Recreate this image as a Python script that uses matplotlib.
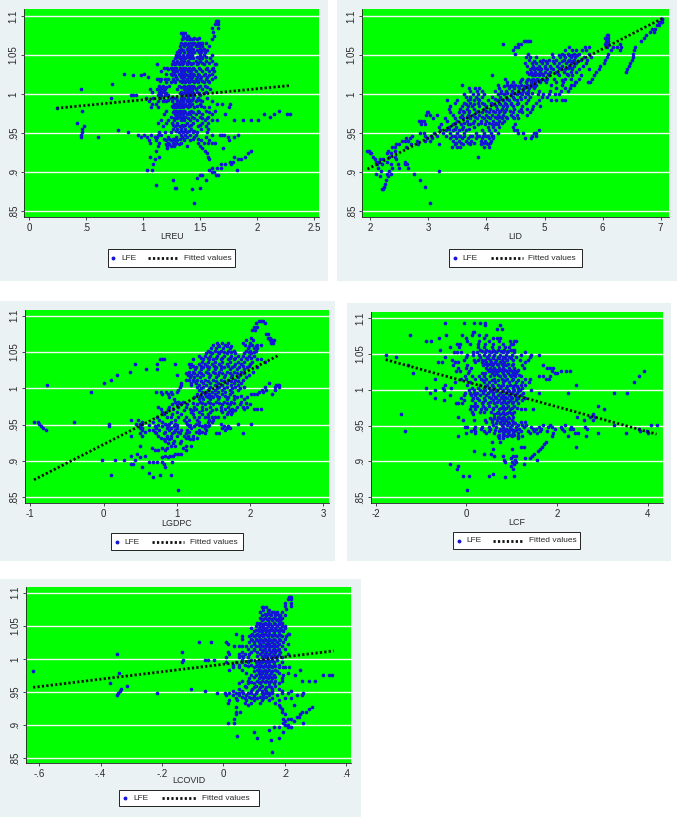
import matplotlib
matplotlib.use("Agg")
import matplotlib.pyplot as plt
from matplotlib.patches import Rectangle

plt.rcParams['font.family'] = ['Liberation Sans', 'DejaVu Sans']

# ---- data: each row is (LFE value, [regressor values read at that LFE]) ----
LREU_ROWS = [
 (1.094,[1.64,1.65,1.66]),(1.09,[1.63,1.66]),(1.085,[1.6,1.66]),(1.08,[1.61]),(1.075,[1.62]),(1.07,[1.6]),
 (1.078,[1.33,1.34,1.35,1.37]),(1.074,[1.35,1.38,1.39]),(1.07,[1.34,1.38,1.41,1.42,1.44,1.47]),
 (1.066,[1.33,1.37,1.4,1.43,1.45,1.48,1.5,1.52,1.55]),(1.062,[1.32,1.36,1.39,1.42,1.46,1.49,1.52,1.58]),
 (1.058,[1.33,1.38,1.41,1.44,1.5,1.53]),(1.054,[1.3,1.32,1.36,1.39,1.42,1.45,1.49,1.51,1.54]),
 (1.05,[1.29,1.31,1.35,1.38,1.4,1.43,1.5,1.53,1.6]),(1.046,[1.28,1.32,1.34,1.37,1.41,1.44,1.49,1.52,1.59]),
 (1.042,[1.26,1.3,1.33,1.36,1.39,1.46,1.5,1.55,1.6]),(1.038,[1.12,1.25,1.28,1.31,1.34,1.38,1.42,1.47,1.53,1.63,1.64]),
 (1.034,[1.18,1.21,1.24,1.27,1.29,1.32,1.35,1.37,1.4,1.44,1.49,1.56,1.61]),
 (1.03,[1.16,1.26,1.28,1.3,1.33,1.36,1.39,1.42,1.46,1.52,1.58,1.62]),
 (1.026,[1.2,1.24,1.27,1.31,1.34,1.37,1.41,1.44,1.48,1.54,1.6]),
 (1.022,[1.04,1.29,1.33,1.36,1.4,1.43,1.47,1.51,1.56,1.63]),
 (1.019,[1.12,1.14,1.16,1.19,1.22,1.26,1.3,1.35,1.38,1.42,1.46,1.5,1.55,1.6]),
 (1.015,[1.2,1.24,1.28,1.34,1.37,1.4,1.45,1.48,1.53,1.58]),
 (1.011,[1.14,1.17,1.23,1.31,1.36,1.39,1.42,1.44,1.5,1.54]),
 (1.007,[1.06,1.12,1.15,1.17,1.19,1.3,1.36,1.38,1.4,1.43,1.46,1.52,1.59]),
 (1.003,[1.08,1.14,1.16,1.18,1.33,1.37,1.39,1.41,1.43,1.47,1.55]),
 (.999,[.89,.91,.94,1.13,1.16,1.19,1.22,1.34,1.38,1.4,1.42,1.45,1.5]),
 (.995,[.72,1.02,1.09,1.15,1.24,1.27,1.29,1.33,1.36,1.39,1.44,1.48,1.56]),
 (.991,[1.05,1.13,1.17,1.2,1.25,1.3,1.32,1.35,1.38,1.41,1.46,1.52,1.6]),
 (.987,[1.08,1.11,1.27,1.29,1.31,1.34,1.37,1.4,1.43,1.5,1.65,1.69,1.76]),
 (.983,[1.07,1.13,1.26,1.28,1.3,1.32,1.35,1.39,1.45,1.53,1.58,1.75]),
 (.979,[.46,1.2,1.27,1.29,1.31,1.33,1.36,1.42,1.48,1.55,1.63,2.19]),
 (.975,[1.18,1.28,1.3,1.32,1.35,1.38,1.41,1.46,1.52,1.6,1.72,2.06,2.29,2.26,2.15]),
 (.971,[1.24,1.29,1.31,1.34,1.37,1.43,1.5,1.57,2.11]),
 (.967,[1.16,1.22,1.27,1.33,1.36,1.41,1.47,1.54,1.6,1.65,1.8,1.88,1.95,2.01]),
 (.963,[.42,1.13,1.2,1.25,1.3,1.38,1.44,1.52,1.57]),
 (.959,[.48,1.17,1.28,1.32,1.35,1.4,1.48,1.55]),
 (.955,[.46,1.26,1.3,1.33,1.37,1.42,1.51,1.57]),
 (.951,[.46,.87,1.14,1.19,1.24,1.31,1.35,1.38,1.44,1.47,1.56]),
 (.948,[.455,.95,1.01,1.07,1.13,1.16,1.33,1.37,1.41,1.46,1.6,1.67,1.69,1.71,1.83]),
 (.945,[.45,.6,.98,1.03,1.1,1.12,1.22,1.29,1.34,1.38,1.45,1.55,1.74,1.8]),
 (.941,[1.05,1.11,1.2,1.24,1.27,1.3,1.36,1.41,1.51,1.58,1.75]),
 (.938,[1.06,1.14,1.22,1.26,1.29,1.33,1.48,1.53,1.57,1.6,1.63]),
 (.934,[1.13,1.21,1.24,1.27,1.38,1.5]),(.931,[1.21,1.52,1.7]),(.927,[1.11,1.54,1.95]),(.924,[1.56,1.92]),
 (.92,[1.06,1.14,1.57,1.8,1.89]),(.917,[1.1,1.58,1.83,1.86]),(.913,[1.76,1.79]),(.91,[1.09,1.68,1.72,1.77]),
 (.906,[1.6,1.65,1.68]),(.903,[1.08,1.03,1.58,1.82]),(.9,[1.6,1.62]),(.897,[1.5,1.52,1.64,1.66]),
 (.893,[1.47]),(.89,[1.26,1.55]),(.884,[1.11]),(.88,[1.28,1.29,1.5]),(.878,[1.43]),(.86,[1.45]),
 (.982,[.24]),(1.006,[.45]),(1.013,[.73]),(1.026,[.83,1.01]),(1.024,[.91,.98]),(.954,[.78]),
]
LREU_FILL = [
 (1.072,[1.36,1.4,1.45,1.49]),(1.064,[1.35,1.38,1.44,1.47,1.51]),(1.056,[1.31,1.35,1.4,1.47,1.52,1.56]),
 (1.048,[1.3,1.33,1.36,1.39,1.42,1.47,1.51,1.55]),(1.04,[1.27,1.29,1.32,1.35,1.38,1.41,1.44,1.48,1.52,1.58]),
 (1.032,[1.22,1.25,1.29,1.32,1.34,1.38,1.41,1.45,1.5,1.55,1.6]),(1.024,[1.25,1.28,1.32,1.35,1.38,1.42,1.45,1.49,1.53,1.58]),
 (1.017,[1.15,1.27,1.32,1.36,1.39,1.41,1.44,1.47,1.52,1.57]),(1.009,[1.16,1.2,1.33,1.37,1.39,1.41,1.43,1.45,1.48,1.56]),
 (1.001,[1.15,1.2,1.32,1.35,1.38,1.4,1.42,1.44,1.49,1.53]),(.993,[1.18,1.22,1.3,1.33,1.35,1.38,1.41,1.43,1.47,1.5]),
 (.985,[1.25,1.28,1.3,1.33,1.36,1.38,1.41,1.47,1.51]),(.977,[1.26,1.29,1.31,1.34,1.37,1.4,1.44,1.49,1.58]),
 (.969,[1.27,1.3,1.33,1.35,1.39,1.45,1.52,1.56]),(.961,[1.26,1.3,1.34,1.37,1.42,1.5]),(.953,[1.29,1.33,1.37,1.4,1.45]),
 (.943,[1.18,1.23,1.26,1.29,1.32,1.36,1.44,1.48]),(.936,[1.2,1.23,1.28,1.31]),
]
LREU_FIT_X = [0.24, 2.29]
LREU_FIT_Y = [0.982, 1.011]

LID_ROWS = [
 (1.096,[7.02,7.03]),(1.092,[6.98,7.01,7.03]),(1.088,[6.94,6.97]),(1.084,[6.85,6.9]),(1.08,[6.82,6.88]),
 (1.076,[6.07,6.09,6.75]),(1.072,[6.05,6.1,6.72]),(1.068,[4.65,4.68,4.72,4.75,6.06,6.1,6.67]),
 (1.064,[4.29,4.55,4.6,6.05,6.09,6.3]),(1.06,[4.5,4.54,5.42,5.7,5.76,6.07,6.18,6.25,6.32,6.55]),
 (1.056,[4.46,5.35,5.47,5.55,5.65,5.72,6.14,6.3,6.54]),(1.052,[4.5,4.72,5.13,5.3,5.4,5.5,5.6,5.77,6.1,6.52]),
 (1.048,[4.68,4.75,4.85,5.15,5.27,5.36,5.45,5.52,5.68,5.8,6.08,6.53]),
 (1.044,[4.74,4.98,5.08,5.2,5.33,5.42,5.5,5.62,5.74,6.04,6.5]),
 (1.04,[4.67,4.78,4.86,4.95,5.05,5.17,5.25,5.37,5.46,5.55,5.72,6.02,6.48]),
 (1.036,[4.7,4.8,4.9,5.0,5.1,5.22,5.3,5.42,5.5,5.66,5.95,6.45]),
 (1.032,[4.75,4.82,4.88,4.94,5.04,5.14,5.28,5.36,5.47,5.6,5.76,5.93,6.42]),
 (1.028,[4.7,4.77,4.84,4.92,5.0,5.1,5.2,5.33,5.45,5.55,5.88,6.4]),
 (1.024,[4.1,4.78,4.83,4.9,4.97,5.08,5.25,5.4,5.48,5.62,5.85]),
 (1.02,[4.32,4.62,4.72,4.8,4.87,4.95,5.05,5.17,5.35,5.45,5.6,5.82]),
 (1.016,[4.35,4.45,4.57,4.68,4.76,4.84,4.92,5.02,5.2,5.32,5.52,5.55,5.78,5.75]),
 (1.012,[3.58,4.2,4.35,4.42,4.5,4.6,4.7,4.78,4.86,5.12,5.3,5.45,5.5]),
 (1.008,[3.7,3.8,3.88,4.22,4.38,4.48,4.56,4.65,4.73,4.82,5.2,5.35,5.44]),
 (1.004,[3.72,3.83,3.93,4.15,4.25,4.34,4.44,4.55,4.63,4.72,4.9,5.1,5.28,5.4]),
 (1.0,[3.62,3.76,3.86,3.96,4.2,4.3,4.42,4.52,4.62,4.72,4.88,4.98,5.08,5.18,5.25]),
 (.996,[3.65,3.72,3.82,3.93,4.1,4.24,4.34,4.45,4.58,4.66,4.75,4.96,5.05]),
 (.993,[3.32,3.5,3.68,3.78,3.88,4.02,4.18,4.28,4.38,4.52,4.72,4.9,5.12,5.2,5.3,5.35]),
 (.989,[3.45,3.62,3.72,3.85,3.92,4.08,4.22,4.32,4.42,4.55,4.68,4.85]),
 (.985,[3.37,3.58,3.68,3.75,3.88,4.0,4.16,4.28,4.36,4.46,4.62,4.8,4.92]),
 (.981,[3.35,3.55,3.66,3.78,3.95,4.06,4.18,4.26,4.34,4.48,4.6,4.7,4.78]),
 (.977,[2.98,3.0,3.38,3.52,3.62,3.7,3.82,3.92,4.04,4.14,4.22,4.3,4.45,4.62,4.75]),
 (.973,[2.96,3.02,3.15,3.42,3.58,3.68,3.76,3.88,4.0,4.1,4.2,4.28,4.42,4.52,4.7]),
 (.969,[3.08,3.28,3.45,3.6,3.72,3.84,3.96,4.06,4.18,4.26,4.36,4.48,4.54]),
 (.966,[2.83,2.88,2.93,3.32,3.5,3.66,3.78,3.9,4.0,4.12,4.22,4.3]),
 (.962,[2.88,2.95,3.22,3.42,3.56,3.68,3.72,3.85,3.98,4.1,4.14,4.2,4.5]),
 (.958,[3.18,3.35,3.48,3.6,3.78,4.02,4.12,4.22,4.45]),
 (.954,[3.2,3.3,3.42,3.52,3.65,3.92,4.05,4.15,4.48,4.52,4.9]),
 (.95,[2.85,2.92,3.1,3.25,3.38,3.5,3.62,3.82,3.95,4.08,4.2,4.55,4.63,4.85,4.82]),
 (.947,[2.72,2.95,3.05,3.15,3.3,3.4,3.55,3.75,3.88,4.0,4.12,4.78,4.85]),
 (.944,[2.62,2.68,2.98,3.06,3.38,3.47,3.58,3.68,3.82,3.92,4.05,4.12,4.67,4.77]),
 (.94,[2.55,2.6,2.65,2.8,2.95,3.02,3.42,3.52,3.65,3.74,3.9,3.98,4.08]),
 (.936,[2.45,2.5,2.7,2.82,3.18,3.45,3.6,3.72,3.9,4.02]),
 (.932,[2.38,2.42,2.62,3.4,3.5,3.55,3.95,4.05]),
 (.927,[1.95,1.97,2.3,2.42]),(.924,[2.0,2.02,2.28,2.35]),(.92,[2.05,2.32,2.42,3.86]),
 (.917,[2.08,2.17,2.22,2.45]),(.913,[2.1,2.13,2.28,2.6]),(.91,[2.12,2.2,2.35,2.48,2.6,2.63]),
 (.906,[2.14,2.38,2.5,2.65]),(.902,[2.18,2.33,3.18]),(.898,[2.1,2.28,2.35,2.75]),(.895,[2.16,2.3]),
 (.89,[2.27,2.85]),(.885,[2.25]),(.881,[2.23,2.95]),(.878,[2.2,2.22]),(.86,[3.02]),
]
LID_FILL = [
 (1.05,[5.25,5.34,5.42,5.48,5.56]),(1.042,[4.82,4.92,5.02,5.14,5.3,5.4,5.48,5.58]),(1.034,[4.78,4.86,4.92,5.0,5.12,5.25,5.4,5.45]),
 (1.026,[4.74,4.8,4.88,4.95,5.06,5.23,5.38]),(1.018,[4.6,4.7,4.76,4.82,4.9,5.0,5.3]),(1.01,[4.3,4.4,4.46,4.55,4.65,4.76,4.84]),
 (1.002,[4.25,4.36,4.47,4.58,4.68,4.78]),(.994,[3.72,3.86,4.14,4.24,4.36,4.48,4.6]),(.987,[3.65,3.78,3.96,4.12,4.24,4.34,4.42,4.52]),
 (.979,[3.6,3.7,3.86,4.0,4.12,4.24,4.32,4.4,4.56]),(.971,[3.55,3.66,3.8,3.92,4.02,4.14,4.24,4.34,4.46]),
 (.963,[3.45,3.62,3.76,3.9,4.04,4.16,4.26]),(.955,[3.35,3.45,3.58,3.7]),(.946,[3.45,3.52,3.62,3.72,3.84,3.94,4.02,4.1]),
 (.938,[3.48,3.56,3.68,3.78,3.94,4.0,4.06]),
]
LID_FIT_X = [1.95, 7.03]
LID_FIT_Y = [0.904, 1.097]

LGDPC_ROWS = [
 (1.093,[2.12,2.15,2.18]),(1.09,[2.08,2.2]),(1.085,[2.05,2.1]),(1.08,[2.03,2.07]),(1.075,[2.22,2.24]),
 (1.07,[2.02,2.25,2.27]),(1.066,[1.95,2.04,2.27,2.3,2.33]),(1.063,[1.55,1.62,1.7,1.9,2.0,2.29,2.32]),
 (1.06,[1.5,1.56,1.66,1.93,2.03,2.1,2.15]),(1.056,[1.47,1.54,1.63,1.72,1.97,2.05,2.1]),
 (1.052,[1.42,1.52,1.6,1.7,1.78,1.95,2.0,2.08]),(1.048,[1.4,1.48,1.58,1.68,1.8,1.92,2.02]),
 (1.044,[1.3,1.38,1.46,1.55,1.65,1.74,1.83,1.9,1.98,2.06]),(1.04,[.77,.8,.82,1.22,1.36,1.44,1.5,1.6,1.7,1.78,1.88,1.96,2.1,2.15]),
 (1.036,[1.34,1.42,1.52,1.62,1.72,1.84,1.92,2.03,2.2]),(1.033,[.43,.97,.73,1.16,1.2,1.3,1.38,1.48,1.58,1.68,1.8,1.88,2.0]),
 (1.029,[1.18,1.26,1.36,1.44,1.54,1.64,1.76,1.85,1.96,2.1]),(1.027,[.58,.73,1.25,1.33,1.42,1.52,1.6,1.72,1.82,1.92]),
 (1.023,[.36,1.16,1.22,1.3,1.4,1.5,1.58,1.68,1.78,1.88,2.04]),(1.019,[.19,1.0,1.15,1.2,1.28,1.36,1.46,1.56,1.66,1.76,1.86,1.98]),
 (1.015,[1.18,1.24,1.32,1.44,1.54,1.64,1.74,1.84,1.94]),(1.012,[.1,1.13,1.16,1.22,1.28,1.38,1.5,1.6,1.7,1.8,1.9]),
 (1.008,[0,1.06,1.2,1.26,1.36,1.46,1.56,1.68,1.78,1.88,2.26]),(1.005,[-.77,1.06,1.2,1.3,1.4,1.52,1.62,1.74,1.84,2.36,2.38,2.4]),
 (1.002,[1.05,1.28,1.36,1.46,1.58,1.68,1.8,1.92,2.2,2.34,2.4]),(.998,[1.02,1.3,1.42,1.52,1.62,1.72,1.84,2.16,2.22,2.34]),
 (.995,[-.17,.72,.78,.85,.92,1.0,1.34,1.4,1.48,1.56,1.66,1.76,2.12,2.18]),
 (.992,[.8,.88,.93,1.28,1.38,1.44,1.52,1.62,1.72,2.02,2.06,2.1,2.3]),
 (.988,[.9,1.24,1.34,1.42,1.5,1.58,1.7,1.82,1.96]),(.985,[.96,1.3,1.36,1.46,1.56,1.68,1.78,1.92]),
 (.981,[.98,1.02,1.08,1.32,1.42,1.54,1.64,1.74,1.88]),(.978,[.93,1.0,1.06,1.14,1.28,1.38,1.5,1.62,1.72,1.86,2.0]),
 (.975,[.75,.9,1.02,1.12,1.24,1.34,1.46,1.6,1.7,1.82,1.9,1.96]),
 (.971,[.78,.88,.95,1.18,1.26,1.4,1.54,1.66,1.76,1.92,2.05,2.1,2.15]),
 (.968,[.8,.85,1.0,1.2,1.3,1.45,1.62,1.7,1.76]),(.965,[.82,.94,1.06,1.22,1.34,1.42,1.68,1.74]),
 (.961,[.73,.86,1.02,1.24,1.38,1.52,1.64]),(.957,[.38,.47,.76,.97,1.1,1.16,1.28,1.44,1.5]),
 (.954,[-.95,-.9,-.4,.53,.68,.8,.92,1.12,1.3,1.42,1.48]),(.951,[-.88,.08,.45,.5,.53,.84,.9,.97,1.14,1.26,1.6,1.84,2.02]),
 (.948,[-.85,.07,.5,.7,.8,.88,.96,1.16,1.24,1.34,1.42,1.65,1.7]),(.945,[-.82,.5,.52,.72,.86,.92,1.0,1.2,1.38,1.62,1.68,1.72]),
 (.942,[-.79,.52,.62,.68,.76,.9,.98,1.06,1.14,1.3,1.4,1.66]),(.939,[.5,.72,.82,.94,1.04,1.12,1.3,1.38,1.54,1.58,1.9]),
 (.935,[.37,.52,.74,.86,.92,1.0,1.1,1.15,1.22]),(.932,[.78,.87,.92,1.12,1.15,1.28]),
 (.928,[.84,.96,1.06]),(.925,[.88,.95,1.05]),(.921,[.5,.92,.97,1.13,1.2]),(.918,[.66,.8,.86,1.08]),(.915,[.7,.74,.84,1.13]),
 (.91,[.46,.98,1.02,1.06]),(.907,[.37,.57,.84,.91,.95]),(.905,[.5,.8,.88]),(.902,[-.02,.15,.28,.43]),(.899,[.62,.68,.73,.8,.93]),
 (.896,[.37,.4,.83]),(.891,[.52,.84]),(.884,[.62]),(.88,[.1,.77,.92]),(.878,[.68]),(.86,[1.02]),
]
LGDPC_FILL = [
 (1.058,[1.58,1.68,1.74,1.98,2.08]),(1.05,[1.46,1.56,1.65,1.74,1.98,2.05]),(1.042,[1.33,1.42,1.53,1.62,1.72,1.8,1.94,2.02]),
 (1.031,[1.22,1.33,1.41,1.51,1.6,1.7,1.78,1.9,1.98]),(1.021,[1.13,1.24,1.33,1.43,1.52,1.62,1.72,1.82,1.92]),
 (1.01,[1.24,1.33,1.43,1.54,1.64,1.74,1.84]),(1.0,[1.33,1.44,1.55,1.64,1.76,1.86]),
 (.99,[1.32,1.4,1.47,1.55,1.66,1.78,1.88]),(.98,[1.04,1.22,1.35,1.46,1.58,1.68,1.78,1.94]),
 (.97,[1.1,1.22,1.34,1.48,1.6,1.72,1.8]),(.96,[.92,1.12,1.3,1.42,1.48,1.56]),
 (.95,[.62,.74,.86,1.0,1.18,1.3,1.38,1.44]),(.94,[.56,.7,.84,.96,1.02,1.16,1.26,1.34]),(.93,[.82,.9,1.18,1.22]),
]
LGDPC_FIT_X = [-0.95, 2.4]
LGDPC_FIT_Y = [0.874, 1.046]

LCF_ROWS = [
 (1.093,[-.48,-.05,.16,.3,.42]),(1.09,[.42,.74]),(1.085,[.68,.78]),(1.08,[.17,.15]),
 (1.076,[-1.24,-.45,-.1,.13,.28,.44]),(1.072,[-.6,.0,.38,.6,.68,.75]),(1.068,[-.88,-.78,.02,.28,.5,.72,.96,1.06,1.1]),
 (1.064,[-.2,-.15,.08,.25,.42,.6,.8,.98,1.02]),(1.06,[-.35,-.17,.26,.4,.56,.72,.86,.95]),
 (1.056,[-.58,.3,.44,.58,.7,.84,.98,1.05]),(1.052,[-.27,-.2,-.12,.15,.24,.42,.55,.66,.8,.9,1.06,1.3]),
 (1.048,[-1.78,.02,.15,.28,.4,.5,.62,.74,.88,1.0,1.2,1.42,1.6]),(1.046,[-1.55,-.48,.0,.3,.45,.6,.7,.82,.95,1.1,1.4]),
 (1.042,[-.32,-.05,.18,.26,.34,.42,.52,.66,.78,.9,1.04,1.18,1.36]),(1.038,[-.63,-.53,-.25,-.18,.2,.34,.44,.54,.64,.74,.84,1.3]),
 (1.034,[-1.28,-.3,.02,.36,.46,.56,.7,.8,.88,1.0,1.22,1.7]),(1.03,[-.18,.0,.1,.44,.52,.62,.72,.82,.94,1.06,1.28,1.78,1.85,1.92]),
 (1.026,[-.22,-.15,.06,.5,.6,.7,.78,.9,1.0,1.12,1.9,2.1,2.2,2.28,3.92]),(1.023,[-1.18,.04,.35,.42,.56,.66,.8,.92,1.02,1.1,1.95,2.0]),
 (1.019,[-.02,.12,.28,.4,.52,.74,.86,.98,1.08,1.2,1.7,1.6,1.85,3.82]),(1.015,[-.7,-.12,.0,.2,.32,.44,.62,.78,.9,1.04,1.3,1.4,1.75,1.82]),
 (1.011,[-.25,.08,.4,.5,.64,.8,.95,1.1,1.22,1.38,3.7]),(1.007,[-.48,.02,.3,.46,.56,.7,.82,.96,1.08,1.2,1.3,2.42]),
 (1.003,[-.9,-.52,-.34,.12,.25,.38,.5,.62,.74,.88,1.02,1.14,1.24]),(1.0,[-.7,-.5,.06,.18,.3,.42,.56,.68,.8,.92,1.06,1.18,1.42]),
 (.996,[-.8,-.02,.08,.16,.24,.36,.48,.6,.74,.88,1.0,1.12,1.26,1.6,2.25,3.26,3.55]),
 (.992,[-.35,-.05,.1,.2,.3,.44,.58,.7,.82,.94,1.08,1.2]),(.988,[-.7,-.12,.14,.24,.4,.54,.66,.78,.9,1.0,1.14,1.3]),
 (.985,[-.5,-.05,.12,.28,.42,.58,.72,.84,.96,1.1,1.22]),(.981,[-.22,-.18,-.1,.2,.34,.48,.62,.76,.88,1.0,1.14]),
 (.977,[.1,.16,.24,.36,.5,.66,.8,.92,1.06,2.9]),(.973,[.08,.2,.32,.44,.58,.72,.84,.96,1.2,1.3,1.48,3.05]),
 (.969,[.12,.3,.4,.54,.7,.82,.94,1.06]),(.966,[-1.45,.15,.62,.74,.86,1.0,2.8]),
 (.962,[-.18,.62,.7,.8,.92,1.04,2.45,2.85,2.72]),(.958,[-.08,.18,.42,.56,.68,.78,.88,1.0,2.6,2.8]),
 (.955,[.44,.56,.74,.84,.92,1.02,1.2,1.3]),(.951,[.6,.78,.9,1.0,1.14,1.22,1.32,1.7,1.85,2.18,3.25,4.08,4.2]),
 (.948,[-.02,.02,.2,.34,.5,.66,.82,.96,1.1,1.28,1.6,1.42,1.8,1.9,2.1,2.3,2.62]),
 (.945,[.18,.32,.52,.74,.88,.98,1.16,1.48,1.54,1.64,1.96,2.12,2.28,2.36,2.66,3.82]),
 (.942,[-1.36,.1,.2,.38,.5,.72,.86,.94,1.06,1.2,1.36,1.5,1.62,1.78,2.16,3.84,3.98]),
 (.939,[.0,.2,.44,.62,.8,.92,1.02,1.14,1.4,1.55,1.92,2.4,2.46,2.9,3.53,4.0]),
 (.935,[-.18,.7,.8,.9,1.0,1.14,1.22,1.9,2.24,2.65]),(.932,[.72,.82,1.14]),
 (.927,[.56,.74,1.75]),(.924,[1.72]),(.92,[1.2,1.28,1.68,2.42]),(.917,[.58,1.0,1.62]),(.914,[.18,1.58]),
 (.91,[.38,.54,1.5]),(.908,[.62,.82,1.02,1.1,1.46]),(.905,[.98,1.3,1.4]),(.902,[.84,1.08,1.55]),(.899,[.85,1.0,1.1]),
 (.897,[-.35,1.06,1.28]),(.894,[-.18,.98]),(.89,[-.2,1.02]),(.883,[.6]),(.88,[-.08,.05,.5,1.05]),(.878,[.86]),(.86,[.02]),
]
LCF_FILL = [
 (1.054,[.35,.5,.62,.76,.92]),(1.044,[.48,.58,.72,.86,.98]),(1.036,[.4,.5,.6,.68,.78,.92,1.04]),
 (1.028,[.48,.56,.66,.76,.86,.96,1.05,1.15]),(1.021,[.62,.7,.84,.96,1.06,1.16]),(1.013,[.36,.56,.7,.86,1.0,1.14]),
 (1.005,[.42,.6,.76,.9,1.02,1.12]),(.998,[.36,.52,.66,.82,.94,1.04,1.14]),(.99,[.5,.64,.76,.86,.98,1.1]),
 (.983,[.36,.52,.68,.8,.92,1.04]),(.975,[.42,.6,.76,.88,1.0,1.12]),(.967,[.68,.8,.9,.98]),
 (.96,[.52,.62,.74,.84,.94]),(.953,[.66,.74,.84,.95,1.08]),(.944,[.64,.76,.84,.92,1.02,1.1]),(.937,[.72,.84,.96,1.06]),
]
LCF_FIT_X = [-1.78, 4.2]
LCF_FIT_Y = [1.042, 0.938]

LCOVID_ROWS = [
 (1.094,[.215,.22,.218]),(1.09,[.21,.222]),(1.085,[.2,.22]),(1.08,[.2,.222]),(1.075,[.205]),
 (1.078,[.125,.13,.14]),(1.074,[.13,.145,.15]),(1.07,[.12,.145,.16,.165,.175,.19]),
 (1.066,[.125,.14,.155,.17,.18,.185,.2]),(1.062,[.12,.135,.15,.165,.18,.19]),
 (1.058,[.125,.145,.16,.175,.185]),(1.054,[.11,.12,.135,.15,.165,.18,.19]),
 (1.05,[.105,.12,.13,.145,.16,.175,.19,.2]),(1.046,[.09,.115,.13,.14,.155,.17,.185,.2]),
 (1.042,[.1,.115,.125,.14,.15,.165,.18,.195]),(1.038,[.04,.095,.11,.125,.135,.15,.165,.18,.215,.21]),
 (1.034,[.06,.085,.1,.115,.13,.145,.16,.175,.19,.205]),(1.03,[.06,.09,.105,.12,.135,.15,.165,.18,.2]),
 (1.026,[-.08,-.04,.01,.085,.1,.115,.13,.145,.16,.175,.195]),(1.022,[.015,.1,.12,.14,.15,.165,.18,.21]),
 (1.019,[.035,.05,.06,.075,.09,.105,.125,.14,.155,.17,.19]),(1.015,[.08,.1,.12,.135,.15,.165,.18,.2]),
 (1.011,[-.135,.015,.06,.09,.11,.125,.14,.155,.17,.185]),(1.007,[-.345,.02,.05,.07,.085,.12,.135,.15,.165,.18,.21]),
 (1.003,[.01,.05,.065,.08,.125,.14,.155,.17,.19]),(.999,[-.13,-.06,-.05,-.03,.06,.09,.13,.145,.16,.175]),
 (.995,[-.135,.01,.04,.06,.08,.105,.115,.125,.14,.15,.165,.19]),(.991,[.03,.05,.07,.09,.11,.12,.135,.15,.165,.18]),
 (.987,[.03,.05,.1,.115,.13,.145,.16,.18,.215,.195,.2]),(.983,[.02,.06,.11,.12,.135,.15,.17,.25]),
 (.982,[-.62]),(.979,[-.34,.075,.115,.125,.14,.155,.18,.21]),(.975,[.09,.105,.12,.135,.15,.165,.195,.235,.355,.345,.325]),
 (.971,[.085,.115,.13,.145,.16,.19]),(.967,[.06,.08,.11,.125,.14,.155,.17,.19,.255,.28,.3]),
 (.963,[-.37,.05,.08,.1,.12,.15,.165,.18]),(.959,[-.315,.07,.105,.125,.15,.17]),
 (.955,[-.335,-.105,.05,.095,.115,.135,.16,.18]),(.951,[-.338,-.06,.03,.06,.09,.11,.125,.14,.16,.19,.22]),
 (.948,[-.342,-.215,-.02,.005,.02,.04,.065,.09,.125,.145,.16,.19,.21,.26]),(.945,[-.345,.01,.03,.05,.075,.1,.13,.15,.175,.24,.255]),
 (.941,[.04,.07,.09,.11,.13,.16,.2,.22]),(.938,[.02,.045,.075,.1,.125,.15,.18]),(.934,[.015,.07,.09,.12,.17]),
 (.931,[.08,.18,.23]),(.927,[.04,.185,.29]),(.924,[.19,.28]),(.92,[.04,.055,.19,.255,.27]),(.917,[.04,.2,.25]),
 (.913,[.24,.245]),(.909,[.035,.195,.21,.22]),(.906,[.2,.23]),(.903,[.015,.035,.195,.26]),(.9,[.2,.21]),
 (.897,[.165,.18,.21,.22]),(.893,[.15]),(.89,[.1,.195]),(.884,[.045]),(.88,[.11,.18]),(.878,[.155]),(.86,[.16]),
]
LCOVID_FILL = [
 (1.068,[.135,.15,.175]),(1.06,[.13,.142,.158,.172,.185]),(1.052,[.115,.128,.14,.152,.168,.182]),
 (1.044,[.108,.122,.135,.148,.16,.175,.19]),(1.036,[.09,.105,.118,.13,.142,.158,.17,.185]),
 (1.028,[.095,.11,.125,.14,.155,.17,.185]),(1.02,[.115,.13,.148,.16,.175]),(1.013,[.1,.13,.148,.162,.175]),
 (1.005,[.06,.11,.128,.142,.158,.175]),(.997,[.08,.11,.122,.136,.148,.16]),(.989,[.08,.108,.125,.14,.155,.17]),
 (.981,[.1,.115,.13,.142,.158,.175]),(.973,[.1,.125,.14,.155,.17]),(.965,[.09,.115,.135,.15]),
 (.957,[.075,.1,.12,.14,.155]),(.949,[.05,.08,.105,.135,.15]),(.943,[.06,.085,.1,.12,.14]),
]
LCOVID_FIT_X = [-0.62, 0.36]
LCOVID_FIT_Y = [0.957, 1.012]

Y_TICKS = [0.85, 0.9, 0.95, 1.0, 1.05, 1.1]
Y_LABELS = ['.85', '.9', '.95', '1', '1.05', '1.1']
SERIES_LABELS = ['LFE', 'Fitted values']

PANELS = [
 dict(name='LREU', rows=LREU_ROWS + LREU_FILL, fx=LREU_FIT_X, fy=LREU_FIT_Y,
      ticks=[0,.5,1,1.5,2,2.5], labels=['0','.5','1','1.5','2','2.5'],
      bg=(0,0,328,281), ax=(24.3,9,319,217), xlim=(-0.044,2.543), ylim=(.8427,1.109),
      leg=(108,249,235,267), off=(5,13,40,71,76), lp=-0.5),
 dict(name='LID', rows=LID_ROWS + LID_FILL, fx=LID_FIT_X, fy=LID_FIT_Y,
      ticks=[2,3,4,5,6,7], labels=['2','3','4','5','6','7'],
      bg=(337,0,677,281), ax=(362.3,9,669,217), xlim=(1.862,7.144), ylim=(.8427,1.109),
      leg=(449,249,582,267), off=(6,13,42,74,79), lp=-0.5),
 dict(name='LGDPC', rows=LGDPC_ROWS + LGDPC_FILL, fx=LGDPC_FIT_X, fy=LGDPC_FIT_Y,
      ticks=[-1,0,1,2,3], labels=['-1','0','1','2','3'],
      bg=(0,301,335,561), ax=(25,310,329,503), xlim=(-1.072,3.078), ylim=(.8421,1.1079),
      leg=(111,533,243,550), off=(6,13,41,73,79), lp=0),
 dict(name='LCF', rows=LCF_ROWS + LCF_FILL, fx=LCF_FIT_X, fy=LCF_FIT_Y,
      ticks=[-2,0,2,4], labels=['-2','0','2','4'],
      bg=(347,303,671,561), ax=(370.7,312.3,662.7,503.3), xlim=(-2.11,4.335), ylim=(.8416,1.108),
      leg=(453,532,580,549), off=(6,13,40,71,76), lp=-0.5),
 dict(name='LCOVID', rows=LCOVID_ROWS + LCOVID_FILL, fx=LCOVID_FIT_X, fy=LCOVID_FIT_Y,
      ticks=[-.6,-.4,-.2,0,.2,.4], labels=['-.6','-.4','-.2','0','.2','.4'],
      bg=(0,579,361,817), ax=(26,587.3,351.3,763.3), xlim=(-.643,.417), ylim=(.8424,1.108),
      leg=(119,790,259,806), off=(6,14,43,78,83), lp=-2),
]

W, H = 677, 817
fig = plt.figure(figsize=(W/100, H/100), dpi=100, facecolor='white')

def fr(box):
    l, t, r, b = box
    return l/W, 1-b/H, (r-l)/W, (b-t)/H

BG, GREEN, BLUE, TXT = '#eaf2f3', '#00ff00', '#1414d8', '#2a2a2a'
DOTS = (0, (0.8, 0.8))

# overlay in pixel units, holds the legend boxes
over = fig.add_axes([0, 0, 1, 1], zorder=10)
over.set_xlim(0, W); over.set_ylim(H, 0); over.axis('off')

for p in PANELS:
    x0, y0, w, h = fr(p['bg'])
    fig.patches.append(Rectangle((x0, y0), w, h, transform=fig.transFigure, fc=BG, ec='none', zorder=-5))
    ax = fig.add_axes(fr(p['ax']), facecolor=GREEN)
    xs = [x for y, row in p['rows'] for x in row]
    ys = [y for y, row in p['rows'] for x in row]
    ax.set_xlim(*p['xlim']); ax.set_ylim(*p['ylim'])
    ax.set_yticks(Y_TICKS); ax.set_yticklabels(Y_LABELS, rotation=90, va='center')
    ax.set_xticks(p['ticks']); ax.set_xticklabels(p['labels'])
    ax.tick_params(labelsize=7, length=2.5, width=0.6, pad=1.5, colors=TXT)
    ax.grid(axis='y', color='#f2f8f2', lw=1.0, zorder=1)
    ax.grid(axis='x', visible=False)
    ax.set_axisbelow(True)
    for s in ('top', 'right'):
        ax.spines[s].set_visible(False)
    for s in ('left', 'bottom'):
        ax.spines[s].set_linewidth(0.6); ax.spines[s].set_color('#222222')
    ax.scatter(xs, ys, s=7, color=BLUE, linewidths=0, zorder=3, label=SERIES_LABELS[0])
    ax.plot(p['fx'], p['fy'], color='#111111', lw=2.0, ls=DOTS, zorder=4, label=SERIES_LABELS[1])
    ax.set_xlabel(p['name'], fontsize=6.4, labelpad=p['lp'], color=TXT)

    l, t, r, b = p['leg']
    m, tx1, ls, le, tx2 = p['off']
    cy = (t + b) / 2
    over.add_patch(Rectangle((l, t), r-l, b-t, fc='white', ec='#222222', lw=0.7))
    over.plot([l+m], [cy], 'o', ms=2.8, color=BLUE, mew=0)
    over.plot([l+ls, l+le], [cy, cy], color='#111111', lw=2.0, ls=DOTS)
    over.text(l+tx1, cy+0.5, SERIES_LABELS[0], fontsize=6.0, color=TXT, va='center', ha='left')
    over.text(l+tx2, cy+0.5, SERIES_LABELS[1], fontsize=6.0, color=TXT, va='center', ha='left')

fig.savefig('out.png', dpi=100)
